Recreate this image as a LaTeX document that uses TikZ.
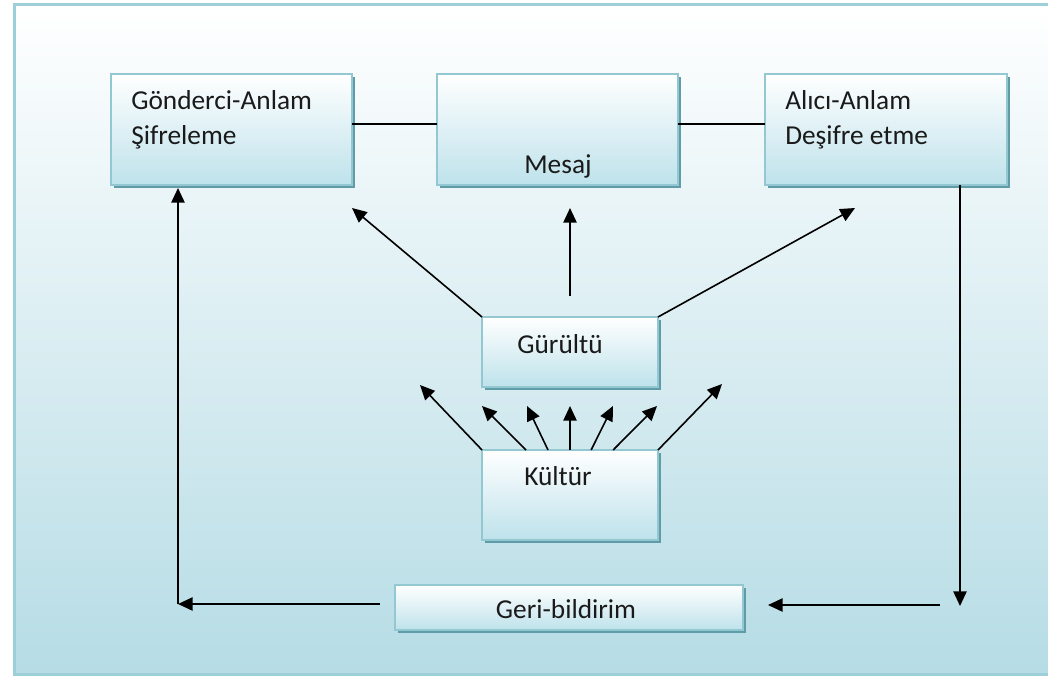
\documentclass[tikz,border=0pt]{standalone}
\usepackage{fontspec}
\setmainfont{Carlito}
\usetikzlibrary{arrows.meta,shadows,calc}

\definecolor{bgbot}{HTML}{B6DCE5}
\definecolor{bgmid}{HTML}{DCEFF3}
\definecolor{framec}{HTML}{9DCFD9}
\definecolor{boxbot}{HTML}{BEE2EB}
\definecolor{boxline}{HTML}{93C8D3}
\definecolor{shadowc}{HTML}{5F9CA8}
\definecolor{ink}{HTML}{1A1A1A}

\tikzset{
  box/.style={draw=boxline, line width=1.5pt, top color=white, bottom color=boxbot,
    inner sep=0pt, outer sep=0pt,
    drop shadow={shadow xshift=2.25pt, shadow yshift=-2.25pt, fill=shadowc, opacity=1}},
  lbl/.style={font=\fontsize{20.5}{24}\selectfont, text=ink, inner sep=0pt},
  link/.style={line width=1.2pt, draw=black},
  arr/.style={link, -{Triangle[length=11pt,width=10pt]}}
}

\begin{document}
\begin{tikzpicture}[x=0.75pt,y=-0.75pt]
  \useasboundingbox (0,0) rectangle (1048,681);
  \fill[white] (0,0) rectangle (1048,681);
  \shade[top color=white, middle color=bgmid, bottom color=bgbot]
    (14,5) rectangle (1056,674);
  \draw[framec, line width=2.25pt] (14,5) rectangle (1056,674);

  % boxes
  \node[box, minimum width=180.75pt, minimum height=83.25pt] (send) at (231.5,129.5) {};
  \node[box, minimum width=180.75pt, minimum height=83.25pt] (msg)  at (557.5,129.5) {};
  \node[box, minimum width=181.5pt,  minimum height=83.25pt] (recv) at (886,129.5) {};
  \node[box, minimum width=132pt,    minimum height=52.5pt]  (noise) at (570,352) {};
  \node[box, minimum width=132pt,    minimum height=67.5pt]  (cult)  at (570,495) {};
  \node[box, minimum width=261pt,    minimum height=33.75pt] (fb)    at (569,607.5) {};

  % labels
  \node[lbl, anchor=base west] (sendA) at (131,110) {Gönderci-Anlam};
  \node[lbl, anchor=base west] (sendB) at (131,145) {Şifreleme};
  \node[lbl, anchor=base west] (recvA) at (785,110) {Alıcı-Anlam};
  \node[lbl, anchor=base west] (recvB) at (785,145) {Deşifre etme};
  \node[lbl, anchor=base] (msgT)   at (558,173) {Mesaj};
  \node[lbl, anchor=base] (noiseT) at (560,353) {Gürültü};
  \node[lbl, anchor=base] (cultT)  at (558,485) {Kültür};
  \node[lbl, anchor=base] (fbT)    at (566,618) {Geri-bildirim};

  % links between the top boxes
  \draw[link] (send.east |- 0,124) -- (msg.west |- 0,124);
  \draw[link] (msg.east |- 0,124) -- (recv.west |- 0,124);

  % noise acts on sender, message and receiver
  \coordinate (nL) at (352,208);
  \coordinate (nM) at (570,208);
  \coordinate (nR) at (855,208);
  \draw[arr] (noise.north west) -- (nL);
  \draw[arr] ($(noise.north)+(0,-21)$) -- (nM);
  \draw[arr] (noise.north east) -- (nR);

  % culture fans out
  \coordinate (c1) at (420,385);
  \coordinate (c2) at (482,406);
  \coordinate (c3) at (527,406);
  \coordinate (c4) at (570,406);
  \coordinate (c5) at (613,406);
  \coordinate (c6) at (657,406);
  \coordinate (c7) at (722,384);
  \draw[arr] (cult.north west) -- (c1);
  \draw[arr] ($(cult.north west)!0.25!(cult.north east)$) -- (c2);
  \draw[arr] ($(cult.north west)!0.375!(cult.north east)$) -- (c3);
  \draw[arr] (cult.north) -- (c4);
  \draw[arr] ($(cult.north west)!0.62!(cult.north east)$) -- (c5);
  \draw[arr] ($(cult.north west)!0.745!(cult.north east)$) -- (c6);
  \draw[arr] (cult.north east) -- (c7);

  % feedback loop
  \coordinate (rDown) at (960,606);
  \coordinate (rTail) at (940,605);
  \coordinate (lCorner) at (178,604);
  \draw[arr] (recv.south -| rDown) -- (rDown);
  \draw[arr] (rTail) -- ($(fb.east |- rTail)+(25,0)$);
  \draw[arr] ($(fb.west |- lCorner)+(-15,0)$) -- (lCorner);
  \draw[arr] (lCorner) -- ($(send.south -| lCorner)+(0,3)$);
\end{tikzpicture}
\end{document}
